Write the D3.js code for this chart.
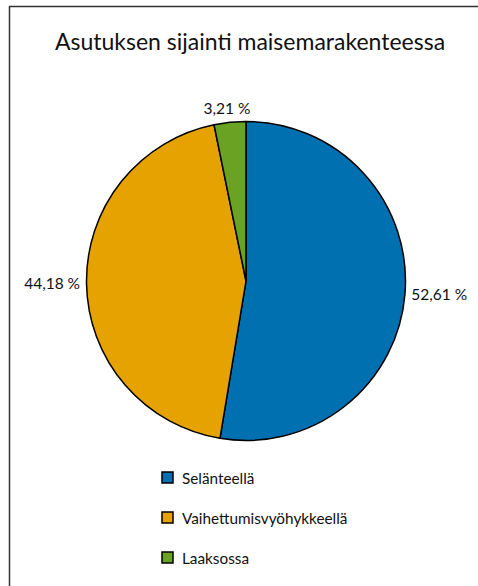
<!DOCTYPE html>
<html><head><meta charset="utf-8">
<script src="https://cdn.jsdelivr.net/npm/d3@7"></script>
<style>body{margin:0;background:#fff}svg{display:block}text{font-family:Lato,"Open Sans",sans-serif;fill:#111}</style>
</head><body><svg id="c" width="478" height="586"></svg>
<script>
const title = "Asutuksen sijainti maisemarakenteessa";
const categories = ["Selänteellä", "Vaihettumisvyöhykkeellä", "Laaksossa"];
const values = [52.61, 44.18, 3.21];
const labels = ["52,61 %", "44,18 %", "3,21 %"];
const colors = ["#0070b0", "#e6a300", "#6aa323"];

const W = 478, H = 586;
const svg = d3.select("#c");
// frame (left and top edges)
svg.append("path").attr("d", `M9.5,${H}V6.5H${W}`).attr("fill","none").attr("stroke","#333").attr("stroke-width",1.5);

svg.append("text").attr("x",250).attr("y",50).attr("text-anchor","middle")
  .style("font-size","23px").text(title);

const cx = 246, cy = 281, r = 159.5;
const pie = d3.pie().sort(null).value(d=>d);
const arcs = pie(values);
const arc = d3.arc().innerRadius(0).outerRadius(r);
const g = svg.append("g").attr("transform",`translate(${cx},${cy})`);
g.selectAll("path").data(arcs).join("path")
  .attr("d",arc).attr("fill",(d,i)=>colors[i])
  .attr("stroke","#000").attr("stroke-width",1.5).attr("stroke-linejoin","round");

const R = 166;
g.selectAll("text.lbl").data(arcs).join("text").attr("class","lbl")
  .style("font-size","15.5px")
  .text((d,i)=>labels[i])
  .each(function(d){
    const a = (d.startAngle+d.endAngle)/2;
    const s = Math.sin(a), c = Math.cos(a);
    const bb = this.getBBox();
    const px = R*s, py = -R*c;
    const bx = px + bb.width/2*s, by = py - 7*c;
    d3.select(this).attr("x",bx).attr("y",by+5).attr("text-anchor","middle");
  });

const leg = svg.append("g").attr("transform","translate(162,472)");
const rows = leg.selectAll("g").data(categories).join("g")
  .attr("transform",(d,i)=>`translate(0,${i*40})`);
rows.append("rect").attr("width",11).attr("height",11)
  .attr("fill",(d,i)=>colors[i]).attr("stroke","#000").attr("stroke-width",1.5);
rows.append("text").attr("x",20).attr("y",11.5).style("font-size","15.3px").text(d=>d);
</script></body></html>
